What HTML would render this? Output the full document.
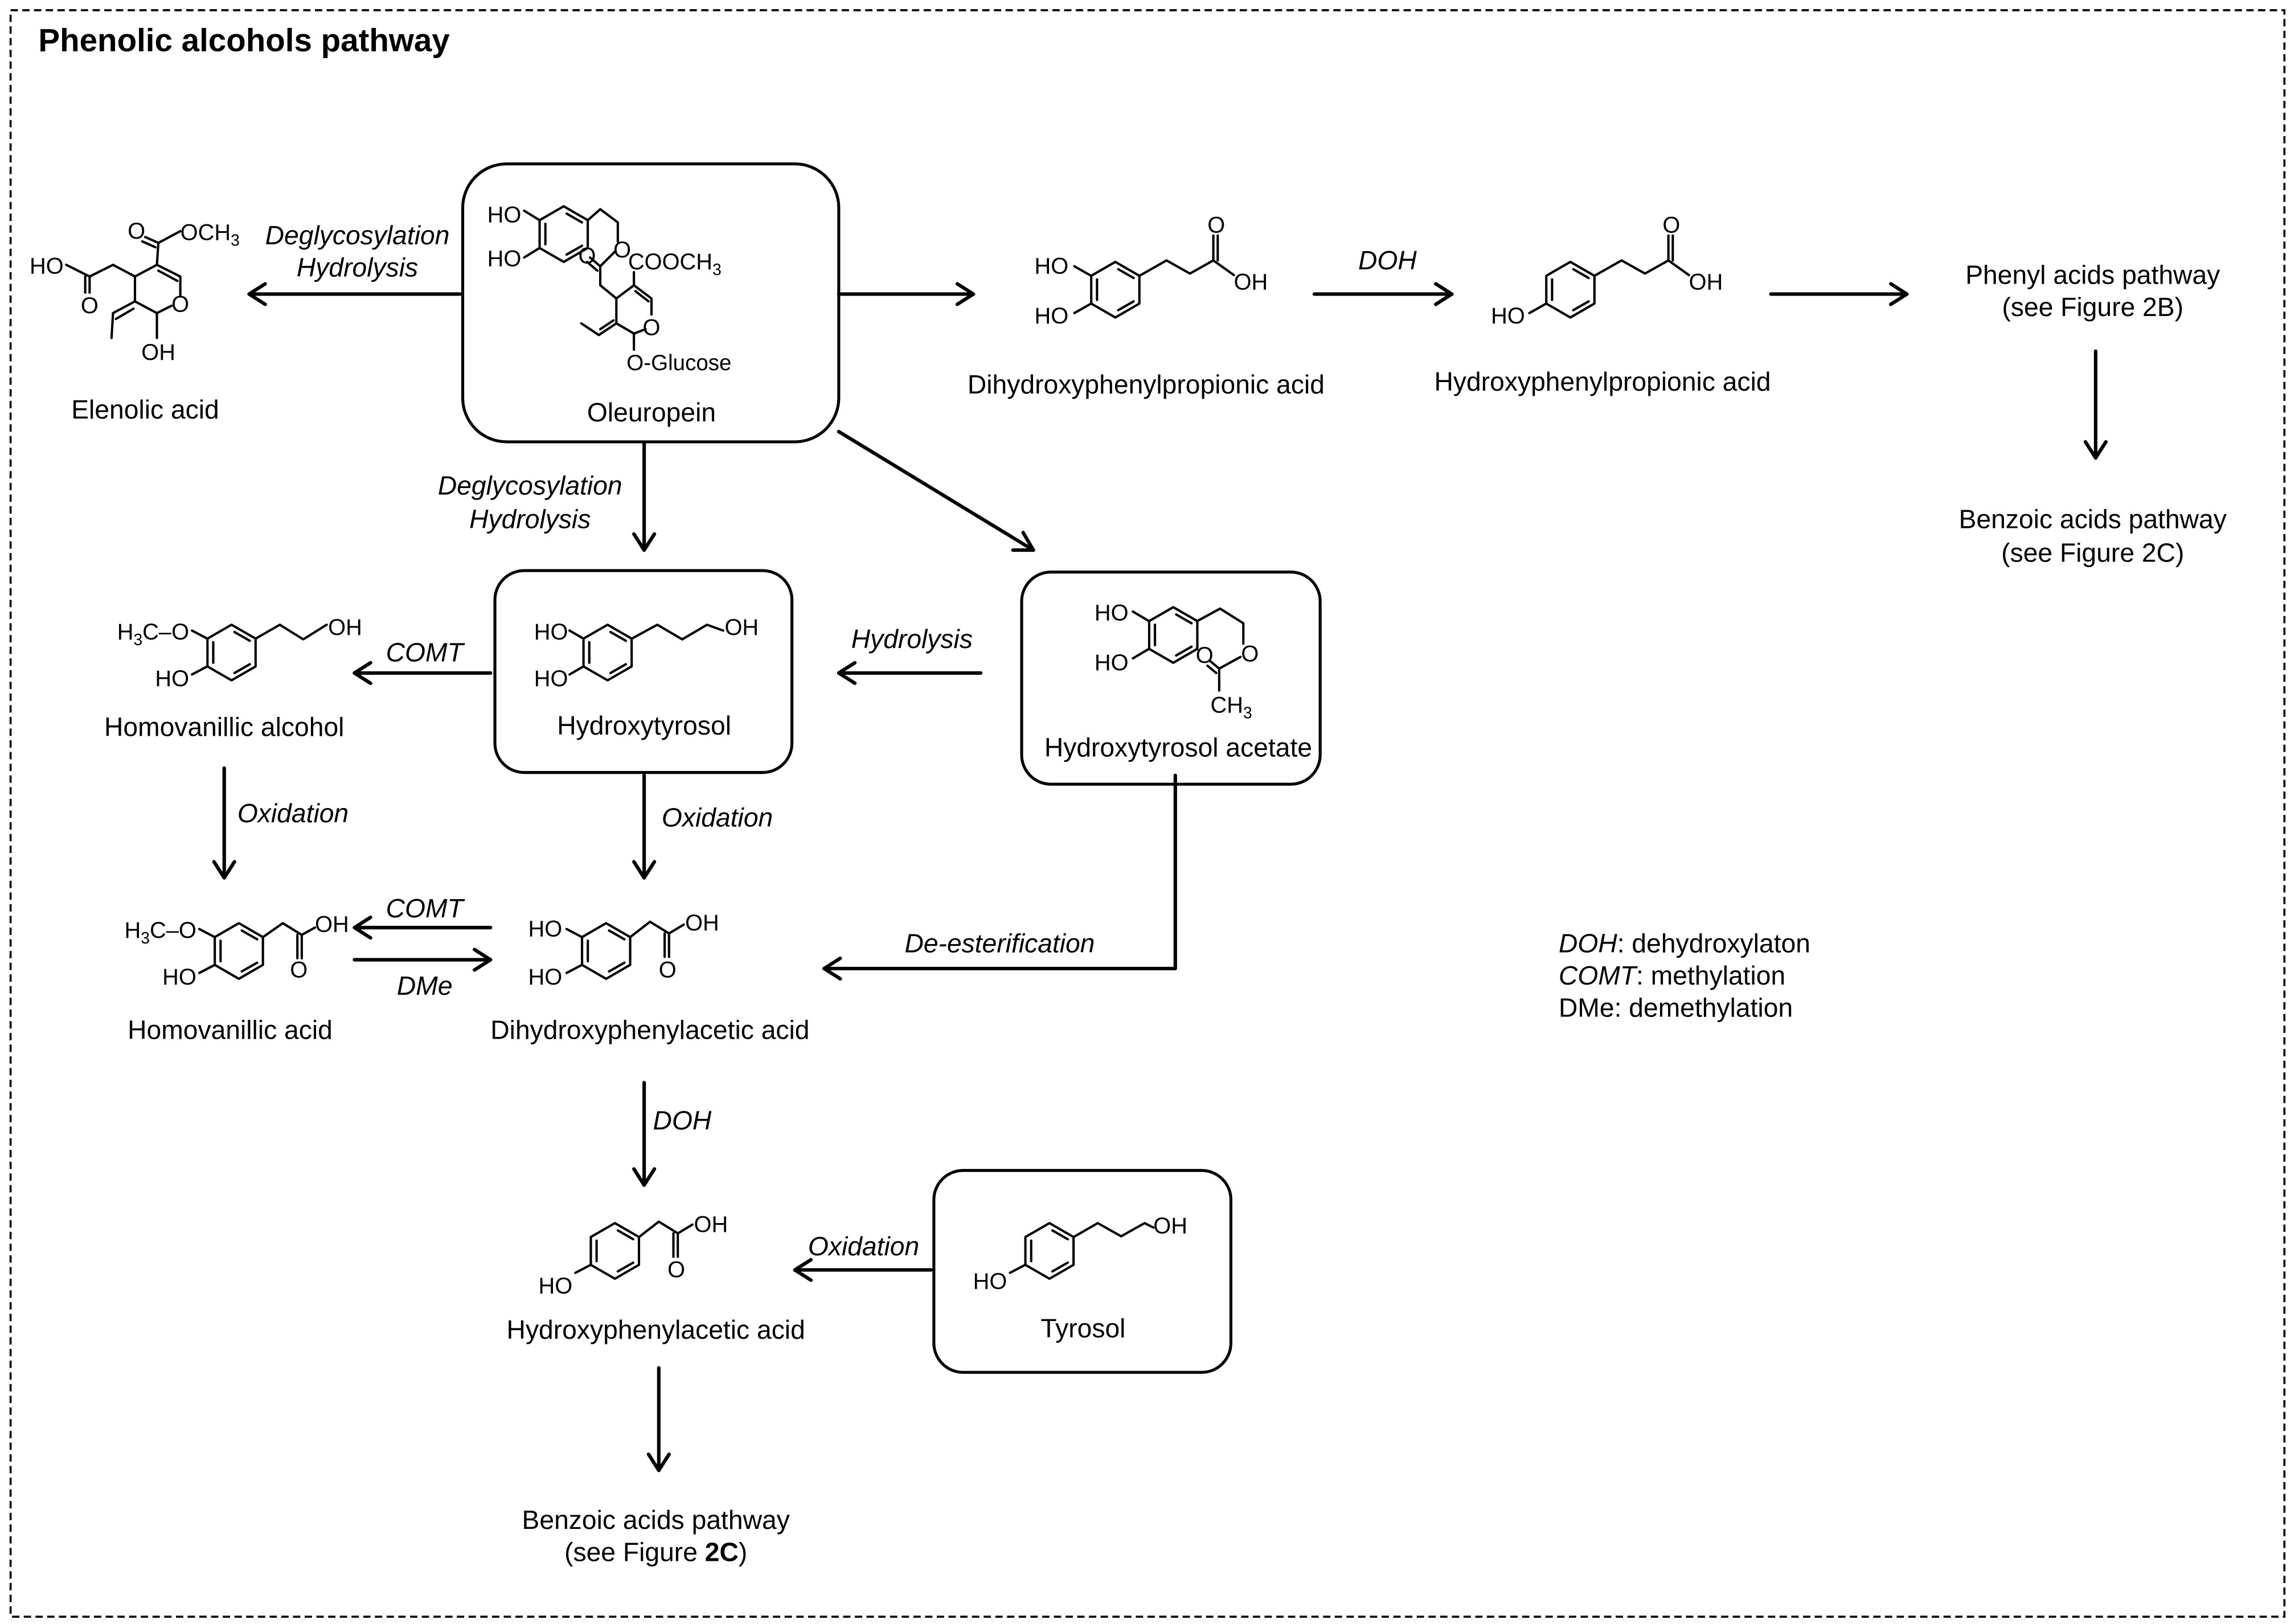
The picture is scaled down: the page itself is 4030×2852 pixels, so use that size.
<!DOCTYPE html>
<html><head><meta charset="utf-8"><style>
html,body{margin:0;padding:0;background:#fff}
svg{display:block}
text{font-family:"Liberation Sans",Arial,sans-serif;fill:#000}
.l{font-size:18px}
.a{font-size:15.5px}
.i{font-size:18px;font-style:italic}
.b{stroke:#000;stroke-width:1.6;fill:none;stroke-linecap:round;stroke-linejoin:round}
.ar{stroke:#000;stroke-width:2.4;fill:none;stroke-linecap:round;stroke-linejoin:round}
.bx{stroke:#000;stroke-width:2;fill:none}
</style></head><body>
<svg width="4030" height="2852" viewBox="0 0 1568 1110" xmlns="http://www.w3.org/2000/svg">
<defs>
<g id="r" class="b">
<polygon points="0,-19 16.45,-9.5 16.45,9.5 0,19 -16.45,9.5 -16.45,-9.5"/>
<line x1="-12.5" y1="-7" x2="-12.5" y2="7"/>
<line x1="2" y1="-14" x2="12.5" y2="-8"/>
<line x1="2" y1="14" x2="12.5" y2="8"/>
</g>
</defs>
<rect x="0" y="0" width="1568" height="1110" fill="#fff"/>
<rect x="7" y="7" width="1554" height="1098" fill="none" stroke="#000" stroke-width="1.4" stroke-dasharray="5,3"/>
<text x="26" y="35" style="font-size:22px;font-weight:bold">Phenolic alcohols pathway</text>

<!-- Elenolic acid -->
<g class="b">
<polyline points="45,181 61,189 77,181 92,189 107,181 108,166 123,158"/>
<line x1="61" y1="189" x2="61" y2="200"/><line x1="58" y1="189" x2="58" y2="200"/>
<line x1="108" y1="166" x2="99" y2="162"/><line x1="106" y1="169" x2="97" y2="165"/>
<polyline points="107,181 123,189 123,202"/><line x1="108" y1="185" x2="121" y2="192"/>
<polyline points="117,209 107,214 107,231"/>
<polyline points="107,214 92,206 92,189"/>
<polyline points="92,206 77,214 76,231"/><line x1="79" y1="218" x2="91" y2="211"/>
</g>
<text class="a" x="20" y="187">HO</text>
<text class="a" x="61" y="214" text-anchor="middle">O</text>
<text class="a" x="93" y="163" text-anchor="middle">O</text>
<text class="a" x="123" y="164">OCH<tspan font-size="11" dy="4">3</tspan></text>
<text class="a" x="123" y="213" text-anchor="middle">O</text>
<text class="a" x="108" y="246" text-anchor="middle">OH</text>
<text class="l" x="99" y="286" text-anchor="middle">Elenolic acid</text>

<!-- Oleuropein -->
<rect class="bx" x="316" y="112" width="257" height="190" rx="30"/>
<use href="#r" x="385" y="160"/>
<g class="b">
<line x1="368.5" y1="150.5" x2="358" y2="144"/><line x1="368.5" y1="169.5" x2="358" y2="176"/>
<polyline points="401.5,150.5 410,143 422,152 422,165"/>
<polyline points="420,172 410,182 410,195 421,204 433,195 433,186"/>
<line x1="410" y1="182" x2="403" y2="176"/><line x1="408" y1="185" x2="401" y2="179"/>
<polyline points="433,195 445,204 445,215"/><line x1="434" y1="199" x2="443" y2="206"/>
<polyline points="441,225 433,228 433,239"/>
<polyline points="433,228 421,221 421,204"/>
<polyline points="421,221 409,229 397,221"/><line x1="410" y1="225" x2="419" y2="219"/>
</g>
<text class="a" x="356" y="152" text-anchor="end">HO</text>
<text class="a" x="356" y="182" text-anchor="end">HO</text>
<text class="a" x="425" y="176" text-anchor="middle">O</text>
<text class="a" x="401" y="180" text-anchor="middle">O</text>
<text class="a" x="429" y="184">COOCH<tspan font-size="11" dy="4">3</tspan></text>
<text class="a" x="445" y="229" text-anchor="middle">O</text>
<text style="font-size:15px" x="428" y="253">O-Glucose</text>
<text class="l" x="445" y="288" text-anchor="middle">Oleuropein</text>

<!-- Dihydroxyphenylpropionic acid -->
<use href="#r" x="762" y="198"/>
<g class="b">
<line x1="745.5" y1="188.5" x2="734" y2="182"/><line x1="745.5" y1="207.5" x2="734" y2="214"/>
<polyline points="778.5,188.5 797,178 813,187 829,178 843,188"/>
<line x1="829" y1="178" x2="829" y2="161"/><line x1="832" y1="178" x2="832" y2="161"/>
</g>
<text class="a" x="730" y="187" text-anchor="end">HO</text>
<text class="a" x="730" y="221" text-anchor="end">HO</text>
<text class="a" x="831" y="159" text-anchor="middle">O</text>
<text class="a" x="843" y="198">OH</text>
<text class="l" x="783" y="269" text-anchor="middle">Dihydroxyphenylpropionic acid</text>

<!-- Hydroxyphenylpropionic acid -->
<use href="#r" x="1073" y="198"/>
<g class="b">
<line x1="1056.5" y1="207.5" x2="1045" y2="214"/>
<polyline points="1089.5,188.5 1108,178 1124,187 1140,178 1154,188"/>
<line x1="1140" y1="178" x2="1140" y2="161"/><line x1="1143" y1="178" x2="1143" y2="161"/>
</g>
<text class="a" x="1042" y="221" text-anchor="end">HO</text>
<text class="a" x="1142" y="159" text-anchor="middle">O</text>
<text class="a" x="1154" y="198">OH</text>
<text class="l" x="1095" y="267" text-anchor="middle">Hydroxyphenylpropionic acid</text>
<text class="i" x="948" y="184" text-anchor="middle">DOH</text>

<text class="l" x="1430" y="194" text-anchor="middle">Phenyl acids pathway</text>
<text class="l" x="1430" y="216" text-anchor="middle">(see Figure 2B)</text>
<text class="l" x="1430" y="361" text-anchor="middle">Benzoic acids pathway</text>
<text class="l" x="1430" y="384" text-anchor="middle">(see Figure 2C)</text>

<!-- Hydroxytyrosol -->
<rect class="bx" x="338" y="390" width="203" height="138" rx="20"/>
<use href="#r" x="415" y="446"/>
<g class="b">
<line x1="398.5" y1="436.5" x2="389" y2="431"/><line x1="398.5" y1="455.5" x2="389" y2="461"/>
<polyline points="431.5,436.5 449,427 466,437 483,427 494,431"/>
</g>
<text class="a" x="388" y="437" text-anchor="end">HO</text>
<text class="a" x="388" y="469" text-anchor="end">HO</text>
<text class="a" x="495" y="434">OH</text>
<text class="l" x="440" y="502" text-anchor="middle">Hydroxytyrosol</text>

<!-- Hydroxytyrosol acetate -->
<rect class="bx" x="698" y="391" width="204" height="145" rx="20"/>
<use href="#r" x="801.6" y="434"/>
<g class="b">
<line x1="785" y1="424.5" x2="774" y2="418"/><line x1="785" y1="443.5" x2="774" y2="450"/>
<polyline points="818,424.5 833.6,416 849.5,426 849.5,440"/>
<polyline points="847.5,449 833,457 833,472"/>
<line x1="833" y1="457" x2="827" y2="452"/><line x1="831" y1="460" x2="825" y2="455"/>
</g>
<text class="a" x="771" y="424" text-anchor="end">HO</text>
<text class="a" x="771" y="458" text-anchor="end">HO</text>
<text class="a" x="854" y="452" text-anchor="middle">O</text>
<text class="a" x="823" y="453" text-anchor="middle">O</text>
<text class="a" x="827" y="487">CH<tspan font-size="11" dy="4">3</tspan></text>
<text class="l" x="805" y="517" text-anchor="middle">Hydroxytyrosol acetate</text>

<!-- Homovanillic alcohol -->
<use href="#r" x="158" y="446"/>
<g class="b">
<line x1="141.5" y1="436.5" x2="131" y2="431"/><line x1="141.5" y1="455.5" x2="131" y2="461"/>
<polyline points="174.5,436.5 191,427 207,437 223,427"/>
</g>
<text class="a" x="129" y="437" text-anchor="end">H<tspan font-size="11" dy="4">3</tspan><tspan dy="-4">C–O</tspan></text>
<text class="a" x="129" y="469" text-anchor="end">HO</text>
<text class="a" x="224" y="434">OH</text>
<text class="l" x="153" y="503" text-anchor="middle">Homovanillic alcohol</text>

<!-- Homovanillic acid -->
<use href="#r" x="163" y="650"/>
<g class="b">
<line x1="146.5" y1="640.5" x2="136" y2="635"/><line x1="146.5" y1="659.5" x2="136" y2="665"/>
<polyline points="179.5,640.5 193,631 206,639 215,634"/>
<line x1="206" y1="639" x2="206" y2="655"/><line x1="203" y1="639" x2="203" y2="655"/>
</g>
<text class="a" x="134" y="641" text-anchor="end">H<tspan font-size="11" dy="4">3</tspan><tspan dy="-4">C–O</tspan></text>
<text class="a" x="134" y="673" text-anchor="end">HO</text>
<text class="a" x="204" y="668" text-anchor="middle">O</text>
<text class="a" x="215" y="637">OH</text>
<text class="l" x="157" y="710" text-anchor="middle">Homovanillic acid</text>

<!-- Dihydroxyphenylacetic acid -->
<use href="#r" x="414" y="650"/>
<g class="b">
<line x1="397.5" y1="640.5" x2="387" y2="635"/><line x1="397.5" y1="659.5" x2="387" y2="665"/>
<polyline points="430.5,640.5 444,630 457,638 467,632"/>
<line x1="457" y1="638" x2="457" y2="654"/><line x1="454" y1="638" x2="454" y2="654"/>
</g>
<text class="a" x="384" y="640" text-anchor="end">HO</text>
<text class="a" x="384" y="673" text-anchor="end">HO</text>
<text class="a" x="456" y="668" text-anchor="middle">O</text>
<text class="a" x="468" y="636">OH</text>
<text class="l" x="444" y="710" text-anchor="middle">Dihydroxyphenylacetic acid</text>

<!-- Hydroxyphenylacetic acid -->
<use href="#r" x="420" y="855"/>
<g class="b">
<line x1="403.5" y1="864.5" x2="393" y2="870"/>
<polyline points="436.5,845.5 450,835 463,843 473,837"/>
<line x1="463" y1="843" x2="463" y2="859"/><line x1="460" y1="843" x2="460" y2="859"/>
</g>
<text class="a" x="391" y="884" text-anchor="end">HO</text>
<text class="a" x="462" y="873" text-anchor="middle">O</text>
<text class="a" x="474" y="842">OH</text>
<text class="l" x="448" y="915" text-anchor="middle">Hydroxyphenylacetic acid</text>

<!-- Tyrosol -->
<rect class="bx" x="638" y="800" width="203" height="138" rx="20"/>
<use href="#r" x="717" y="855"/>
<g class="b">
<line x1="700.5" y1="864.5" x2="690" y2="870"/>
<polyline points="733.5,845.5 750,836 766,845 782,836 788,839"/>
</g>
<text class="a" x="688" y="881" text-anchor="end">HO</text>
<text class="a" x="788" y="843">OH</text>
<text class="l" x="740" y="914" text-anchor="middle">Tyrosol</text>

<text class="l" x="448" y="1045" text-anchor="middle">Benzoic acids pathway</text>
<text class="l" x="448" y="1067" text-anchor="middle">(see Figure <tspan font-weight="bold">2C</tspan>)</text>

<!-- Legend -->
<text class="l" x="1065" y="651"><tspan font-style="italic">DOH</tspan>: dehydroxylaton</text>
<text class="l" x="1065" y="673"><tspan font-style="italic">COMT</tspan>: methylation</text>
<text class="l" x="1065" y="695">DMe: demethylation</text>

<!-- Arrow labels -->
<text class="i" x="244" y="167" text-anchor="middle">Deglycosylation</text>
<text class="i" x="244" y="189" text-anchor="middle">Hydrolysis</text>
<text class="i" x="362" y="338" text-anchor="middle">Deglycosylation</text>
<text class="i" x="362" y="361" text-anchor="middle">Hydrolysis</text>
<text class="i" x="623" y="443" text-anchor="middle">Hydrolysis</text>
<text class="i" x="290" y="452" text-anchor="middle">COMT</text>
<text class="i" x="200" y="562" text-anchor="middle">Oxidation</text>
<text class="i" x="490" y="565" text-anchor="middle">Oxidation</text>
<text class="i" x="290" y="627" text-anchor="middle">COMT</text>
<text class="i" x="290" y="680" text-anchor="middle">DMe</text>
<text class="i" x="683" y="651" text-anchor="middle">De-esterification</text>
<text class="i" x="466" y="772" text-anchor="middle">DOH</text>
<text class="i" x="590" y="858" text-anchor="middle">Oxidation</text>

<!-- Arrows -->
<g class="ar">
<line x1="314" y1="201" x2="170" y2="201"/><polyline points="181,194 170,201 181,208"/>
<line x1="573" y1="201" x2="665" y2="201"/><polyline points="654,194 665,201 654,208"/>
<line x1="898" y1="201" x2="992" y2="201"/><polyline points="981,194 992,201 981,208"/>
<line x1="1210" y1="201" x2="1303" y2="201"/><polyline points="1292,194 1303,201 1292,208"/>
<line x1="1432" y1="240" x2="1432" y2="313"/><polyline points="1425,302 1432,313 1439,302"/>
<line x1="440" y1="303" x2="440" y2="376"/><polyline points="433,365 440,376 447,365"/>
<line x1="573" y1="295" x2="706" y2="376"/><polyline points="692,376 706,376 699,364"/>
<line x1="670" y1="460" x2="573" y2="460"/><polyline points="584,453 573,460 584,467"/>
<line x1="335" y1="460" x2="242" y2="460"/><polyline points="253,453 242,460 253,467"/>
<line x1="153" y1="525" x2="153" y2="600"/><polyline points="146,589 153,600 160,589"/>
<line x1="440" y1="530" x2="440" y2="600"/><polyline points="433,589 440,600 447,589"/>
<line x1="335" y1="634" x2="242" y2="634"/><polyline points="253,627 242,634 253,641"/>
<line x1="242" y1="656" x2="335" y2="656"/><polyline points="324,649 335,656 324,663"/>
<polyline points="803,530 803,662 563,662"/><polyline points="574,655 563,662 574,669"/>
<line x1="440" y1="740" x2="440" y2="810"/><polyline points="433,799 440,810 447,799"/>
<line x1="636" y1="868" x2="543" y2="868"/><polyline points="554,861 543,868 554,875"/>
<line x1="450" y1="935" x2="450" y2="1005"/><polyline points="443,994 450,1005 457,994"/>
</g>
</svg>
</body></html>
